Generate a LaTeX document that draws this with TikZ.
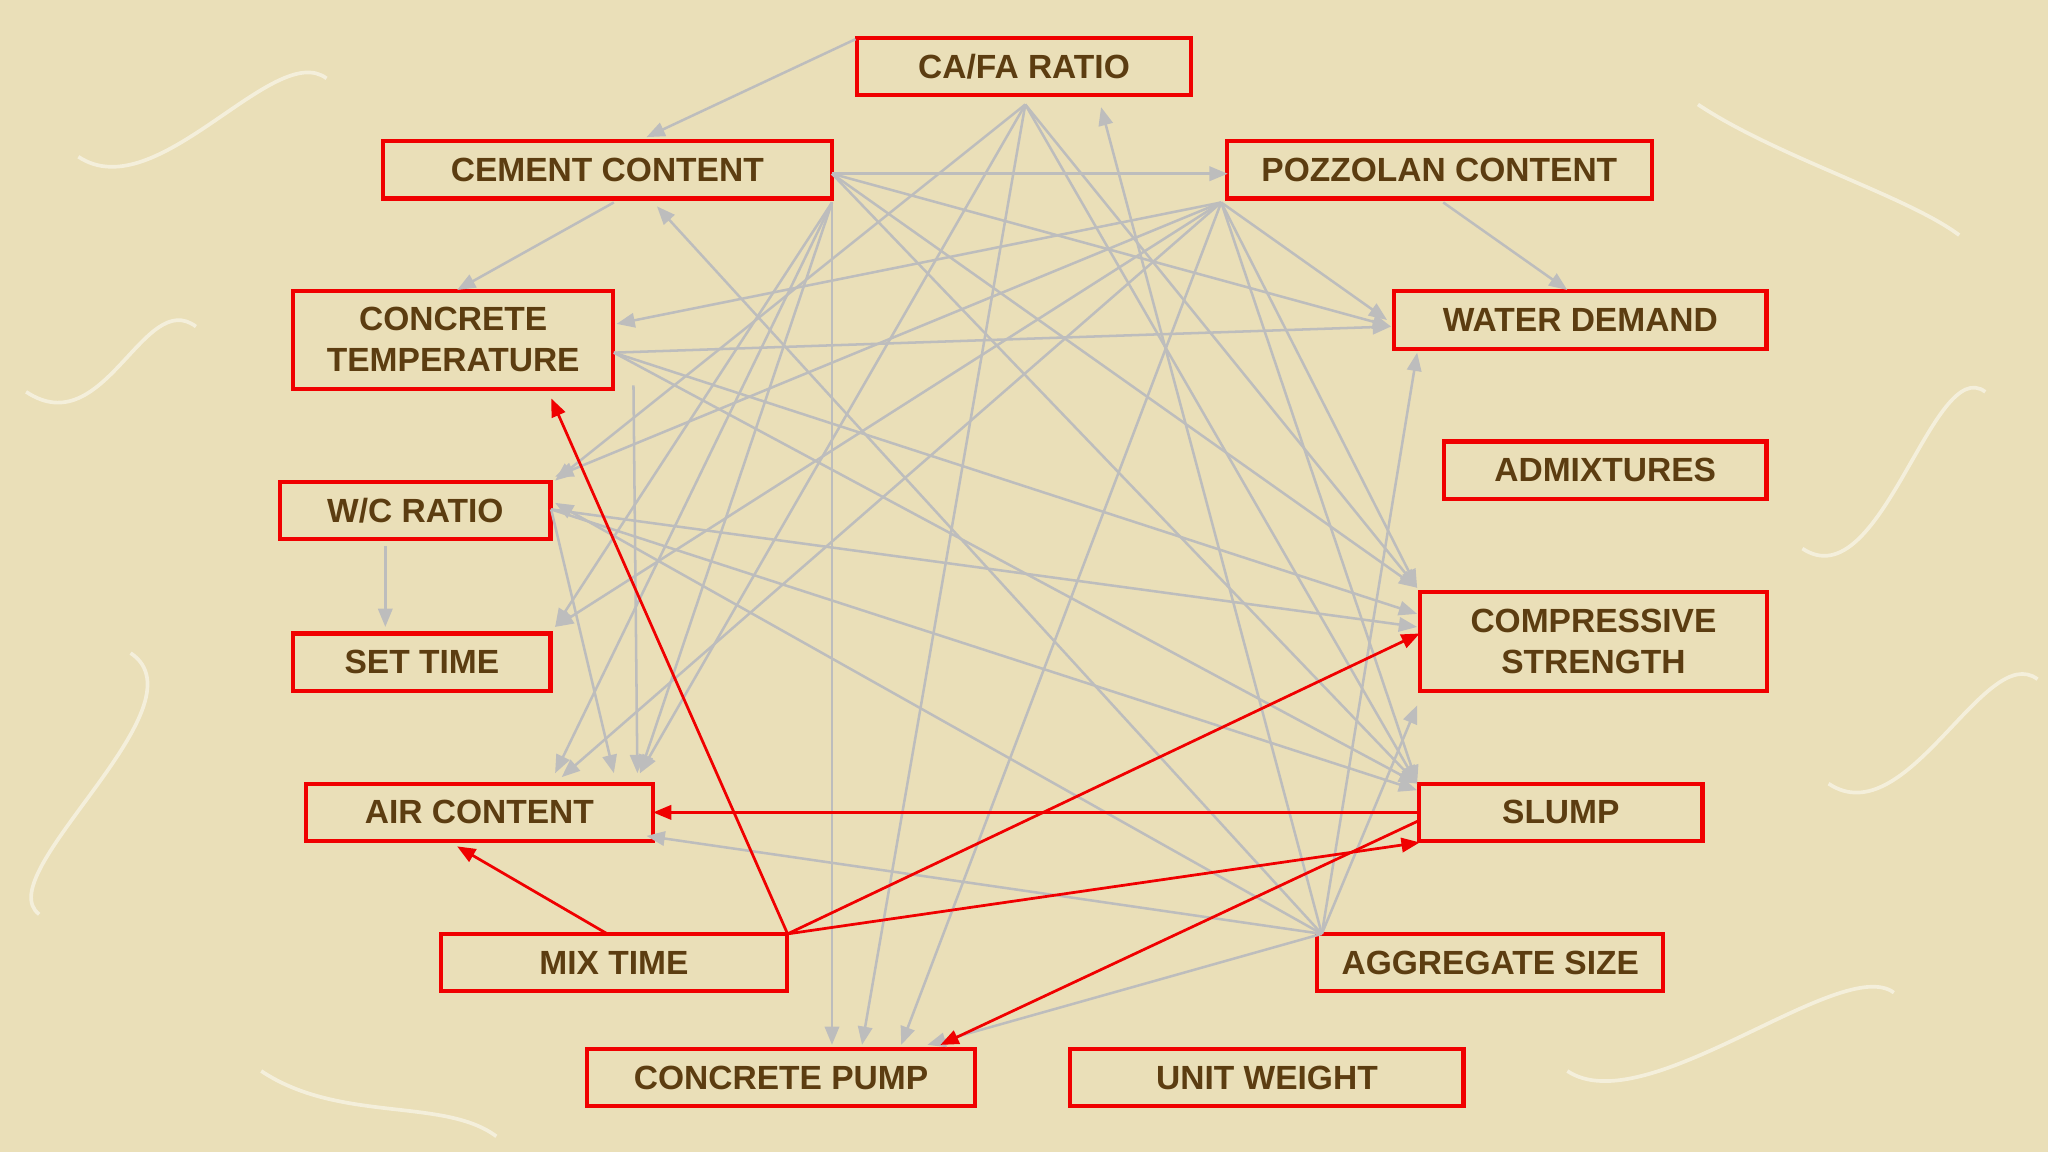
\documentclass[tikz,border=0pt]{standalone}
\usepackage{fontspec}
\setmainfont{Liberation Sans}
\usetikzlibrary{arrows.meta}
\definecolor{bg}{HTML}{EADFB8}
\definecolor{txt}{HTML}{5C3D11}
\definecolor{gl}{HTML}{BDBDBD}
\definecolor{rd}{HTML}{F00000}
\begin{document}
\begin{tikzpicture}[x=0.01cm,y=-0.01cm,
 bx/.style={draw=rd,line width=0.9pt,inner sep=0pt,text=txt,font=\fontsize{7.3}{8.8}\selectfont\bfseries,align=center},
 g/.style={draw=gl,line width=0.55pt,-{Triangle[length=0.14cm,width=0.11cm]}},
 r/.style={draw=rd,line width=0.6pt,-{Triangle[length=0.14cm,width=0.11cm]}}]
\fill[bg] (0,0) rectangle (1568,882);
\useasboundingbox (0,0) rectangle (1568,882);
\foreach \a/\b/\c/\d in {60/120/250/60, 1300/80/1500/180, 100/500/30/700, 1400/600/1560/520, 200/820/380/870, 1200/820/1450/760, 20/300/150/250, 1380/420/1520/300}
  \draw[white,opacity=0.5,line width=0.8pt] (\a,\b) .. controls (\a+60,\b+40) and (\c-40,\d-30) .. (\c,\d);
\def\bxat#1#2#3#4#5#6{\node[bx,minimum width=#4*0.01cm,minimum height=#5*0.01cm] (#1) at (#2,#3) {#6};}
\bxat{cafa}{784}{51}{256}{44}{CA/FA RATIO}
\bxat{cem}{465}{130}{344}{44}{CEMENT CONTENT}
\bxat{poz}{1102}{130}{325}{44}{POZZOLAN CONTENT}
\bxat{temp}{347}{260}{245}{75}{CONCRETE\\TEMPERATURE}
\bxat{wat}{1210}{245}{285}{44}{WATER DEMAND}
\bxat{adm}{1229}{360}{247}{44}{ADMIXTURES}
\bxat{wc}{318}{391}{207}{44}{W/C RATIO}
\bxat{comp}{1220}{491}{266}{76}{COMPRESSIVE\\STRENGTH}
\bxat{set}{323}{507}{197}{44}{SET TIME}
\bxat{air}{367}{622}{266}{44}{AIR CONTENT}
\bxat{slump}{1195}{622}{217}{44}{SLUMP}
\bxat{mix}{470}{737}{265}{44}{MIX TIME}
\bxat{agg}{1141}{737}{265}{44}{AGGREGATE SIZE}
\bxat{pump}{598}{825}{297}{44}{CONCRETE PUMP}
\bxat{unit}{970}{825}{301}{44}{UNIT WEIGHT}
\coordinate (Hc) at (785,80);
\coordinate (Hm) at (637,133);
\coordinate (Hm2) at (637,155);
\coordinate (Hp) at (935,155);
\coordinate (Ht) at (470,270);
\coordinate (Hw) at (422,390);
\coordinate (Ha) at (1012,715);
\draw[g] (655,30) -- (495,105);
\draw[g] (470,155) -- (350,222);
\draw[g] (1105,155) -- (1200,222);
\draw[g] (295,418) -- (295,480);
\draw[g] (Hm) -- (940,133);
\foreach \p in {(1065,250),(1085,450),(1085,600)} \draw[g] (Hm) -- \p;
\foreach \p in {(637,800),(425,480),(490,592),(425,592)} \draw[g] (Hm2) -- \p;
\foreach \p in {(472,248),(425,365),(425,480),(430,595),(690,800),(1085,450),(1085,600),(1062,245)} \draw[g] (Hp) -- \p;
\foreach \p in {(425,368),(490,592),(660,800),(1085,450),(1085,600)} \draw[g] (Hc) -- \p;
\foreach \p in {(1065,250),(1085,470),(1085,600)} \draw[g] (Ht) -- \p;
\draw[g] (485,295) -- (488,592);
\foreach \p in {(1085,480),(1085,605),(470,592)} \draw[g] (Hw) -- \p;
\foreach \p in {(843,82),(1085,270),(1085,540),(503,158),(425,385),(495,640),(710,800)} \draw[g] (Ha) -- \p;
\draw[r] (603,715) -- (422,305);
\draw[r] (465,715) -- (350,648);
\draw[r] (603,715) -- (1087,485);
\draw[r] (603,715) -- (1087,645);
\draw[r] (1087,622) -- (500,622);
\draw[r] (1087,628) -- (720,800);
\end{tikzpicture}
\end{document}
